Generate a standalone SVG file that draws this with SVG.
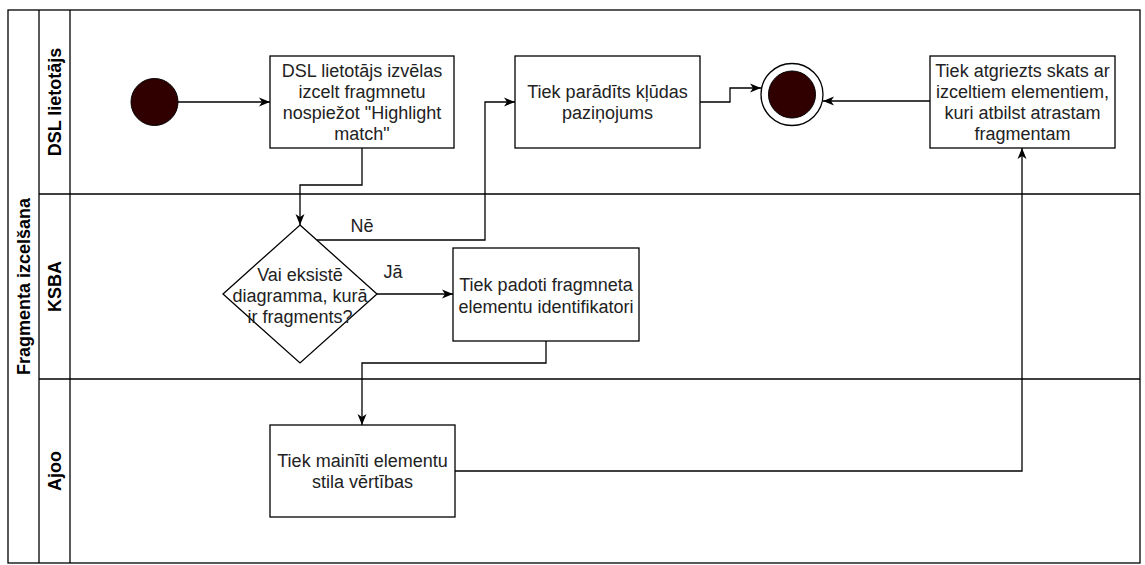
<svg xmlns="http://www.w3.org/2000/svg" width="1145" height="565" viewBox="0 0 1145 565">
  <defs>
    <marker id="arrow" markerUnits="userSpaceOnUse" markerWidth="12" markerHeight="10" viewBox="0 0 12 10" refX="11" refY="5" orient="auto">
      <path d="M0,0.5 L11,5 L0,9.5 L3,5 Z" fill="#000"/>
    </marker>
  </defs>
  <style>
    .frame { fill: none; stroke: #000; stroke-width: 1.3; }
    .box { fill: #fff; stroke: #000; stroke-width: 1.3; }
    .txt { font-family: "Liberation Sans", Arial, sans-serif; font-size: 18px; fill: #222; text-anchor: middle; }
    .lane { font-family: "Liberation Sans", Arial, sans-serif; font-size: 18px; font-weight: bold; fill: #000; text-anchor: middle; }
    .edge { fill: none; stroke: #000; stroke-width: 1.3; marker-end: url(#arrow); }
    .dot { fill: #300000; stroke: #000; stroke-width: 1; }
  </style>
  <rect width="1145" height="565" fill="#fff"/>

  <!-- pool and lanes -->
  <g id="pool">
    <rect class="frame" x="8" y="10" width="1132" height="553"/>
    <line class="frame" x1="39" y1="10" x2="39" y2="563"/>
    <line class="frame" x1="70" y1="10" x2="70" y2="563"/>
    <line class="frame" x1="39" y1="194" x2="1140" y2="194"/>
    <line class="frame" x1="39" y1="379" x2="1140" y2="379"/>
    <text class="lane" transform="translate(30,286.5) rotate(-90)">Fragmenta izcelšana</text>
    <text class="lane" transform="translate(61,102) rotate(-90)">DSL lietotājs</text>
    <text class="lane" transform="translate(61,286.5) rotate(-90)">KSBA</text>
    <text class="lane" transform="translate(61,471) rotate(-90)">Ajoo</text>
  </g>

  <!-- connectors -->
  <g id="connectors">
    <path class="edge" d="M178,102 H270"/>
    <path class="edge" d="M362,148 V185 H300 V225"/>
    <path class="edge" d="M317,240 H485 V102 H515"/>
    <path class="edge" d="M377,294 H453"/>
    <path class="edge" d="M546,341 V363 H362 V425"/>
    <path class="edge" d="M455,471 H1022 V148"/>
    <path class="edge" d="M700,102 H730 V88 H761"/>
    <path class="edge" d="M930,101 H823"/>
    <text class="txt" x="362" y="232">Nē</text>
    <text class="txt" x="393" y="278">Jā</text>
  </g>

  <g id="start">
    <circle class="dot" cx="154.5" cy="102" r="23.5"/>
  </g>

  <g id="select-fragment">
    <rect class="box" x="270" y="56" width="184" height="92"/>
    <text class="txt" x="362" y="77">DSL lietotājs izvēlas</text>
    <text class="txt" x="362" y="98">izcelt fragmnetu</text>
    <text class="txt" x="362" y="119">nospiežot "Highlight</text>
    <text class="txt" x="362" y="140">match"</text>
  </g>

  <g id="error-message">
    <rect class="box" x="515" y="56" width="185" height="92"/>
    <text class="txt" x="607.5" y="98">Tiek parādīts kļūdas</text>
    <text class="txt" x="607.5" y="119">paziņojums</text>
  </g>

  <g id="end">
    <circle cx="792" cy="94.5" r="31" fill="#fff" stroke="#000" stroke-width="1.3"/>
    <circle class="dot" cx="792" cy="94.5" r="23.5"/>
  </g>

  <g id="return-view">
    <rect class="box" x="930" y="56" width="185" height="92"/>
    <text class="txt" x="1022.5" y="77">Tiek atgriezts skats ar</text>
    <text class="txt" x="1022.5" y="98">izceltiem elementiem,</text>
    <text class="txt" x="1022.5" y="119">kuri atbilst atrastam</text>
    <text class="txt" x="1022.5" y="140">fragmentam</text>
  </g>

  <g id="decision">
    <polygon class="box" points="300,225 377,294 300,363 223,294"/>
    <text class="txt" x="300" y="281">Vai eksistē</text>
    <text class="txt" x="300" y="302">diagramma, kurā</text>
    <text class="txt" x="300" y="323">ir fragments?</text>
  </g>

  <g id="pass-ids">
    <rect class="box" x="453" y="248" width="186" height="93"/>
    <text class="txt" x="546" y="291">Tiek padoti fragmneta</text>
    <text class="txt" x="546" y="313">elementu identifikatori</text>
  </g>

  <g id="change-style">
    <rect class="box" x="270" y="425" width="185" height="92"/>
    <text class="txt" x="362.5" y="467">Tiek mainīti elementu</text>
    <text class="txt" x="362.5" y="488">stila vērtības</text>
  </g>
</svg>
